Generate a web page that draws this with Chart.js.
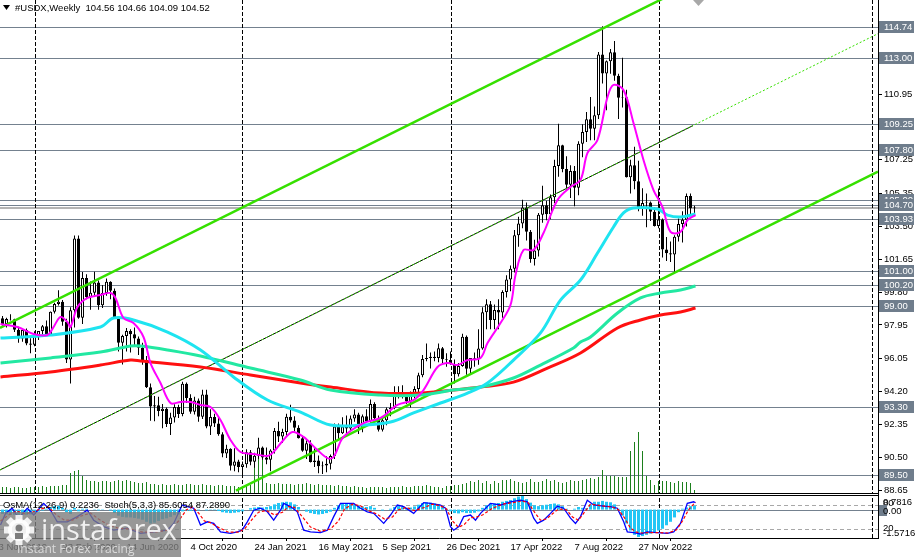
<!DOCTYPE html>
<html>
<head>
<meta charset="utf-8">
<title>#USDX Weekly</title>
<script src="https://cdn.jsdelivr.net/npm/chart.js@4.4.1/dist/chart.umd.min.js"></script>
<style>
html,body{margin:0;padding:0;background:#fff;overflow:hidden;}
canvas{display:block;}
</style>
</head>
<body>
<canvas id="chart" width="918" height="557"></canvas>
<script>
// ---------------- DATA ----------------
// weeks are counted from the bar of 4 Oct 2020 (= 0)
const FIRST_WEEK = -47; // first bar: 10 Nov 2019

const opens = [
98.33,98.00,98.28,98.27,97.68,97.18,97.66,96.91,96.84,97.36,
97.61,97.87,97.39,98.69,99.13,99.26,98.13,96.00,98.77,102.82,
98.36,100.59,99.53,99.76,100.34,99.06,99.75,100.38,99.88,98.37,
96.94,97.33,97.61,97.43,97.18,96.66,95.98,94.44,93.35,93.43,
93.10,93.23,92.37,92.73,93.33,92.93,94.64,93.84,93.06,93.69,
92.77,94.03,92.23,92.76,92.39,91.79,90.70,90.98,90.02,90.26,
89.94,90.10,90.77,90.24,90.58,91.04,90.48,90.36,90.88,91.98,
91.67,91.92,92.77,92.57,92.16,91.56,90.86,91.28,90.23,90.31,
89.99,90.03,90.13,90.56,92.23,91.85,92.23,92.12,92.68,92.90,
92.17,92.80,92.52,93.50,92.69,92.04,92.58,93.20,93.29,94.04,
94.08,93.96,93.64,94.12,94.34,95.12,96.03,96.09,96.16,96.08,
96.63,96.02,95.97,95.75,95.17,95.64,97.29,95.48,96.08,96.04,
96.62,98.66,99.12,98.23,98.79,98.65,99.80,100.51,101.12,103.00,
103.66,104.56,103.20,101.67,102.14,104.15,104.69,104.19,105.14,106.90,
108.07,106.73,105.85,106.62,105.68,108.16,108.82,109.54,109.00,109.76,
113.19,112.12,112.80,113.31,111.99,110.75,110.77,106.27,106.94,106.04,
104.55,104.82,104.85,104.32,103.52,103.89,102.20,101.99,101.92,102.92,
103.63,103.87,105.21,104.56];
const highs = [
98.45,98.35,98.55,98.30,97.85,97.70,97.75,97.20,97.60,97.55,
97.95,98.20,98.70,99.20,99.91,99.35,98.30,98.95,102.99,102.99,
100.93,100.80,100.40,100.94,100.45,100.20,100.56,100.41,100.00,98.45,
97.40,97.77,97.70,97.80,97.30,96.95,96.20,94.65,93.95,93.90,
93.50,93.30,93.00,93.48,93.45,94.75,94.70,94.05,93.90,93.80,
94.30,94.30,93.20,92.95,92.70,91.90,91.20,91.00,91.00,90.35,
90.25,90.95,90.90,90.75,91.60,91.10,91.05,90.95,92.15,92.50,
92.10,92.95,93.45,92.80,92.30,91.70,91.45,91.45,91.00,90.60,
90.25,90.55,90.65,92.40,92.40,92.75,92.85,92.85,93.20,93.00,
92.90,93.20,93.75,93.60,92.85,92.70,93.30,93.55,94.50,94.50,
94.55,94.00,94.20,94.50,95.25,96.25,96.90,96.40,96.45,96.90,
96.70,96.35,96.45,96.00,95.80,97.45,97.35,96.00,96.40,97.70,
98.95,99.40,99.30,99.10,99.40,99.90,100.75,101.30,103.30,104.05,
105.00,104.85,103.30,102.75,104.25,105.79,104.95,105.30,107.25,109.29,
108.10,107.45,106.95,106.90,108.30,109.25,109.95,110.79,110.25,113.33,
114.78,112.85,113.50,113.95,112.10,113.00,111.20,107.25,107.99,107.20,
105.65,105.35,104.90,104.60,105.63,103.95,102.90,102.65,103.00,103.95,
104.35,105.35,105.36,104.66];
const lows = [
97.88,97.80,98.20,97.55,96.95,97.00,96.80,96.36,96.75,97.10,
97.30,97.35,97.35,98.60,99.05,97.90,95.80,94.65,97.80,98.30,
98.00,99.40,98.80,99.60,98.80,98.90,99.60,99.40,98.35,96.45,
95.72,96.45,96.40,96.80,96.25,95.70,94.40,92.55,92.52,92.80,
92.13,92.20,91.75,92.45,92.70,92.80,93.55,92.95,92.90,92.50,
92.65,92.13,91.75,92.20,91.70,90.50,90.45,89.75,89.70,89.65,
89.40,89.90,90.05,89.90,90.40,90.35,90.10,89.70,90.70,91.35,
91.30,91.70,92.45,91.95,91.55,90.80,90.40,90.20,89.95,89.60,
89.55,89.65,89.80,90.40,91.50,91.80,91.85,91.95,92.50,91.80,
91.90,92.45,92.45,92.65,91.95,91.95,92.30,92.80,93.20,93.80,
93.80,93.50,93.30,93.80,93.90,95.00,95.90,95.50,95.90,95.85,
95.80,95.60,95.70,94.65,95.05,95.60,95.15,95.15,95.60,95.70,
96.55,97.70,97.70,97.70,97.70,98.35,99.50,99.85,100.90,102.35,
103.40,102.70,101.45,101.30,101.80,103.70,103.85,103.90,104.80,106.30,
106.55,105.55,105.10,104.64,105.25,107.40,108.25,108.35,108.35,109.55,
111.55,110.05,112.10,111.70,109.55,110.20,106.25,105.35,105.60,104.35,
104.10,103.45,103.80,103.50,103.40,101.75,101.55,101.50,100.82,102.65,
102.60,103.50,104.10,104.09];
const closes = [
98.00,98.28,98.27,97.68,97.18,97.66,96.91,96.84,97.36,97.61,
97.87,97.39,98.69,99.13,99.26,98.13,96.00,98.77,102.82,98.36,
100.59,99.53,99.76,100.34,99.06,99.75,100.38,99.88,98.37,96.94,
97.33,97.61,97.43,97.18,96.66,95.98,94.44,93.35,93.43,93.10,
93.23,92.37,92.73,93.33,92.93,94.64,93.84,93.06,93.69,92.77,
94.03,92.23,92.76,92.39,91.79,90.70,90.98,90.02,90.26,89.94,
90.10,90.77,90.24,90.58,91.04,90.48,90.36,90.88,91.98,91.67,
91.92,92.77,92.57,92.16,91.56,90.86,91.28,90.23,90.31,89.99,
90.03,90.13,90.56,92.23,91.85,92.23,92.12,92.68,92.90,92.17,
92.80,92.52,93.50,92.69,92.04,92.58,93.20,93.29,94.04,94.08,
93.96,93.64,94.12,94.34,95.12,96.03,96.09,96.16,96.08,96.63,
96.02,95.97,95.75,95.17,95.64,97.29,95.48,96.08,96.04,96.62,
98.66,99.12,98.23,98.79,98.65,99.80,100.51,101.12,103.00,103.66,
104.56,103.20,101.67,102.14,104.15,104.69,104.19,105.14,106.90,108.07,
106.73,105.85,106.62,105.68,108.16,108.82,109.54,109.00,109.76,113.19,
112.12,112.80,113.31,111.99,110.75,110.77,106.27,106.94,106.04,104.55,
104.82,104.85,104.32,103.52,103.89,102.20,101.99,101.92,102.92,103.63,
103.87,105.21,104.52,104.52];
const volumes = [
6,6,5,6,6,5,5,6,6,6,7,6,7,7,7,
8,8,
20,22,23,17,
13,12,12,11,12,12,11,12,13,
12,13,12,11,10,10,11,
9,9,8,9,8,8,9,8,8,9,9,8,8,9,8,8,7,8,8,7,
7,7,6,7,7,8,
40,40,40,
10,9,9,10,9,9,9,8,9,9,10,9,8,9,8,8,8,7,8,7,7,
6,7,6,6,5,6,6,6,6,5,6,6,6,7,6,6,7,7,7,8,7,6,6,5,7,
7,8,8,9,10,12,
11,13,10,12,9,12,10,13,13,14,12,11,10,11,14,11,11,12,14,12,13,11,10,11,13,12,12,13,
14,15,14,16,
23,17,17,17,16,16,16,
42,51,61,42,17,13,8,12,
12,12,11,10,12,11,11,10,
3];
const osmaValues = [
-0.25,-0.28,-0.3,
-0.3,-0.32,-0.3,-0.3,-0.28,-0.2,-0.12,-0.05,
0.05,0.15,0.2,0.22,0.1,-0.15,-0.25,
0.1,-0.1,0.05,0.05,0.0,0.02,-0.05,-0.02,0.0,-0.05,
-0.2,-0.35,-0.42,-0.45,-0.45,-0.48,-0.52,-0.58,
-0.7,-0.8,-0.75,-0.65,-0.55,-0.5,-0.42,-0.32,-0.28,
-0.1,-0.08,-0.07,-0.05,-0.05,0.0,-0.05,-0.02,-0.03,-0.08,
-0.15,-0.18,-0.2,-0.18,-0.15,-0.1,
0.0,0.08,0.12,0.15,0.12,
0.15,0.2,0.3,0.38,0.42,0.45,0.42,0.3,0.15,
0.0,-0.12,-0.2,-0.25,-0.28,-0.25,-0.2,-0.12,
0.1,0.25,0.32,0.35,0.35,0.3,0.2,0.18,
0.15,0.2,0.1,0.0,-0.05,0.0,0.05,0.15,0.2,0.15,
0.1,0.12,0.18,0.28,0.38,0.42,0.4,0.35,0.3,0.2,
0.05,-0.1,-0.2,-0.22,-0.15,
-0.2,-0.2,-0.18,-0.1,0.1,0.25,
0.35,0.35,0.38,0.45,0.5,0.55,0.65,0.75,0.78,0.6,0.4,0.25,
0.2,0.25,0.28,0.32,0.35,0.3,0.2,0.05,0.0,0.05,0.15,0.1,0.08,
0.3,0.45,0.45,0.5,0.45,0.42,0.3,0.05,
-0.35,-0.8,-1.2,-1.45,-1.57,-1.52,-1.45,-1.38,-1.32,-1.2,-1.1,-0.9,-0.7,-0.45,
-0.15,0.05,0.12,0.2,0.22];

// moving averages (week, value)
const maFastWeeks = [-47.5,-43.25,-39.25,-35.75,-34.25,-32.5,-30.75,-30,-28.25,-25.75,-22.5,-20,-18.75,-16.75,-14.25,-11.75,-10,-7.5,-5,-2.5,0,2.5,5,7.5,10,12.5,15.75,19.25,20.75,23.25,25.5,28.25,31.75,34.25,35.75,38.25,43.25,47.5,51.75,55.75,58.25,61.75,64.25,66.75,69.25,72.5,74.25,77.5,80,81.25,83.25,85.75,88.25,91.75,95,97.5,99.25,101.75,104.25,105.75,108.25,110.75,113.25,115.75,118,120,122.5,124.25,126.25];
const maFastValues = [98.00,97.83,97.44,97.38,97.83,98.40,98.11,97.83,98.96,99.47,99.64,99.75,99.47,98.34,98.06,97.27,95.80,94.68,93.55,93.61,93.61,93.44,93.33,92.59,91.47,90.79,90.68,90.57,90.79,91.47,91.92,91.64,90.90,90.45,90.51,91.64,92.42,92.71,93.44,93.72,94.28,95.58,95.80,95.69,95.97,96.09,96.93,98.06,99.07,100.76,102.17,102.17,103.13,104.99,105.72,106.12,107.64,108.37,110.79,111.47,111.19,109.33,107.24,105.55,104.59,103.19,103.19,103.86,104.14];
const maMidWeeks = [-47.5,-35,-22.5,-19.25,-14.25,-5.75,2.5,10.75,19.25,27.5,35,43.25,50,55.75,62.5,69.25,74.25,80.75,87.5,92.5,97.5,101.75,105.75,108.25,110.75,116.75,119.25,122.5,126.25];
const maMidValues = [97.21,97.38,97.83,98.34,98.23,97.55,96.54,95.02,93.72,93.04,92.31,92.31,92.48,92.99,93.55,94.11,94.68,95.97,97.50,99.35,100.48,102.00,103.47,104.26,104.54,104.48,104.14,104.03,104.20];
const maSlowWeeks = [-47.5,-35,-22.5,-15,-12.5,-5.75,2.5,15,27.5,35,47.5,57.5,65.75,72.5,80.75,87.5,95.75,97.5,100,106.75,112.5,117.5,122.5,126.25];
const maSlowValues = [95.80,96.09,96.42,96.76,96.76,96.54,96.20,95.52,94.85,94.28,94.00,94.00,94.28,94.45,94.96,95.69,96.65,96.99,97.27,98.62,99.47,99.75,99.92,100.14];
const maLongWeeks = [-47.5,-35,-22.5,-15,-12.5,2.5,15,27.5,35,47.5,57.5,65.75,72.5,80.75,89.25,97.5,106.75,112.5,117.5,122.5,126.25];
const maLongValues = [95.02,95.30,95.69,95.97,95.92,95.58,95.13,94.68,94.45,94.11,94.11,94.28,94.45,94.73,95.52,96.37,97.78,98.23,98.51,98.68,98.90];

// stochastic (5,3,3)
const stochMainWeeks = [-47.5,-46.25,-44.6,-42.9,-40.8,-39.2,-36.7,-35,-33.3,-30.8,-28.3,-25.8,-24.2,-21.7,-19.2,-15.8,-12.5,-9.2,-5.8,-4.2,-2.1,-0.8,0.8,2.5,4.2,5.8,7.5,10,11.7,12.9,14.2,15.8,17.5,19.2,20.8,22.5,23.3,25,26.7,28.3,30,32.5,34.2,35.8,37.5,39.2,40.8,42.5,44.2,45.8,48.3,50,51.7,53.3,55.8,58.3,60,62.5,63.75,65,65.8,67.1,68.3,70,71.25,72.5,75,77.5,80,82.5,84.2,85.8,86.7,88.3,90,91.7,93.3,95,96.25,97.5,99.2,100.8,103.3,105,106.7,108.3,109.2,110.8,112.5,114.2,116.7,119.2,120.8,122.5,124.2,125.8,126.25];
const stochMainValues = [30,59,72,47,72,55,84,67,38,38,51,67,42,26,17,22,9,13,17,34,80,76,72,30,38,34,13,9,13,17,38,67,72,63,42,67,84,76,63,17,13,11,17,51,84,84,84,72,63,59,34,55,80,76,59,86,84,80,72,26,17,26,51,55,42,59,84,80,88,92,88,47,34,42,59,77,72,47,34,51,92,80,77,76,72,38,13,11,7.5,13,11,9,13,34,84,88,85.6];
const stochSignalWeeks = [-47.5,-45.5,-43.5,-41.5,-39.5,-37.5,-35.5,-33.5,-31.5,-29.5,-27.5,-25,-23,-20.5,-18,-15,-12,-8.5,-5,-3,-1,0.5,2,3.5,5,7,9.5,12,13.5,15.5,17,19,21,23,24.5,26,28,30,32.5,35,37,38.5,40.5,42.5,44.5,46.5,48.5,50.5,52,54,56,58.5,60.5,62.5,64,65.5,67,68.5,70,71.5,73,75.5,78,80.5,83,84.5,86,87.5,89,90.5,92,94,95.5,97,98.5,100,101.5,103.5,105.5,107,108.5,110,111.5,113,115,117,119.5,121.5,123,124.5,126.25];
const stochSignalValues = [40,55,65,58,62,70,75,55,42,42,52,60,45,30,22,20,12,13,18,40,68,75,60,40,36,24,12,12,20,45,62,66,55,62,76,74,50,25,14,20,40,70,82,78,66,58,45,50,68,74,66,74,82,78,70,40,24,32,48,50,55,72,82,86,90,85,62,42,45,58,70,68,50,42,62,82,80,77,75,68,48,22,12,10,11,11,10,18,40,68,87.3];

// trend channel (drawn objects): end points (week, price)
const chanUpperWeeks = [-47.625, 126];
const chanUpperValues = [97.78, 117.22];
const chanLowerWeeks = [11.375, 171.875];
const chanLowerValues = [88.61, 106.59];
const chanMidWeeks = [-47.625, 125.625];
const chanMidValues = [89.78, 109.18];
const chanMidRayWeeks = [-47.625, 171.875];
const chanMidRayValues = [89.78, 114.36];

// horizontal levels and axis ticks
const levels = [114.74, 113.00, 109.25, 107.80, 105.00, 104.70, 103.93, 101.00, 100.20, 99.00, 93.30, 89.50];
const currentPrice = 104.52;
const priceTicks = [88.65, 90.50, 92.35, 94.20, 96.05, 97.95, 99.80, 101.65, 103.50, 105.35, 107.25, 109.10, 110.95, 112.80, 114.65];
const xTickWeeks = [-32, -16, 0, 16, 32, 48, 64, 80, 96, 112];
const xTickLabels = ['23 Feb 2020','14 Jun 2020','4 Oct 2020','24 Jan 2021','16 May 2021','5 Sep 2021','26 Dec 2021','17 Apr 2022','7 Aug 2022','27 Nov 2022'];
const hiddenTickWeek = -48, hiddenTickLabel = '3 Nov 2019';
const separatorWeeks = [-39, 13, 65, 117, 170.375];
const stochLevels = [80, 20];
const headerText = '#USDX,Weekly  104.56 104.66 104.09 104.52';
const oscText = 'OsMA(12,26,9) 0.2236  Stoch(5,3,3) 85.6054 87.2890';
const osmaMaxLabel = '0.7816', osmaMinLabel = '-1.5716';

// ---------------- SCALE RANGES ----------------
const X_MIN = -47.625, X_MAX = 171.875;
const PRICE_MIN = 85.9458, PRICE_MAX = 116.2556;
const VOL_MIN = -45, VOL_MAX = 493;
const STO_MIN = -2.5, STO_MAX = 1342.5;
const OSMA_MIN = -1.6303, OSMA_MAX = 29.254;

const FONT = "'Liberation Sans', Arial, sans-serif";
Chart.defaults.font.family = FONT;
Chart.defaults.font.size = 9.5;
Chart.defaults.color = '#000';

const wk = i => FIRST_WEEK + i;
const pts = (ws, vs) => ws.map((w, k) => ({x: w, y: vs[k]}));

const wickData = highs.map((h, i) => ({x: wk(i), y: [lows[i], h]}));
const bodyData = opens.map((o, i) => ({x: wk(i), y: [Math.min(o, closes[i]), Math.max(o, closes[i])]}));
const bodyColors = opens.map((o, i) => closes[i] >= o ? '#ffffff' : '#000000');
const volData = volumes.map((v, i) => ({x: wk(i), y: v}));
const osmaData = osmaValues.map((v, i) => ({x: wk(i), y: v}));

const lineDs = (label, data, color, width, axis, order, extra) => Object.assign({
  type: 'line', label, data, borderColor: color, borderWidth: width, pointRadius: 0,
  fill: false, tension: 0, yAxisID: axis, order
}, extra || {});

const decor = {
  id: 'decor',
  beforeDraw(chart) {
    const c = chart.ctx;
    c.save(); c.fillStyle = '#fff'; c.fillRect(0, 0, chart.width, chart.height); c.restore();
  },
  beforeDatasetsDraw(chart) {
    const c = chart.ctx, xs = chart.scales.x, ys = chart.scales.y, yo = chart.scales.yo, yh = chart.scales.yh, a = chart.chartArea;
    c.save();
    // level lines
    c.lineWidth = 1; c.strokeStyle = '#74818f';
    levels.forEach(v => {
      const py = Math.round(ys.getPixelForValue(v)) + 0.5;
      c.beginPath(); c.moveTo(a.left, py); c.lineTo(a.right, py); c.stroke();
    });
    c.strokeStyle = '#b4b4b4'; c.lineWidth = 2;
    const cp = Math.round(ys.getPixelForValue(currentPrice));
    c.beginPath(); c.moveTo(a.left, cp); c.lineTo(a.right, cp); c.stroke();
    // oscillator levels
    c.lineWidth = 1; c.strokeStyle = '#a8a8a8'; c.setLineDash([4, 3]);
    stochLevels.forEach(v => {
      const py = Math.round(yo.getPixelForValue(v)) + 0.5;
      c.beginPath(); c.moveTo(a.left, py); c.lineTo(a.right, py); c.stroke();
    });
    c.setLineDash([]); c.strokeStyle = '#74818f';
    const z = Math.round(yh.getPixelForValue(0)) + 0.5;
    c.beginPath(); c.moveTo(a.left, z); c.lineTo(a.right, z); c.stroke();
    // period separators
    c.strokeStyle = '#000'; c.setLineDash([4, 2]);
    separatorWeeks.forEach(w => {
      const px = Math.round(xs.getPixelForValue(w)) + 0.5;
      c.beginPath(); c.moveTo(px, a.top); c.lineTo(px, a.bottom); c.stroke();
    });
    c.restore();
  },
  afterDraw(chart) {
    const c = chart.ctx, xs = chart.scales.x, ys = chart.scales.y, yo = chart.scales.yo, yh = chart.scales.yh, a = chart.chartArea;
    c.save();
    // pane separation
    const volBase = Math.round(chart.scales.yv.getPixelForValue(0));
    c.fillStyle = '#fff'; c.fillRect(0, volBase + 0.5, a.right, 2);
    c.strokeStyle = '#000'; c.lineWidth = 1;
    c.beginPath(); c.moveTo(0, volBase + 0.5); c.lineTo(a.right, volBase + 0.5); c.stroke();
    c.beginPath(); c.moveTo(0, volBase + 2.5); c.lineTo(a.right, volBase + 2.5); c.stroke();
    // level label boxes
    c.font = '9.5px ' + FONT; c.textBaseline = 'middle'; c.textAlign = 'left';
    levels.forEach(v => {
      const py = Math.round(ys.getPixelForValue(v));
      c.fillStyle = '#6f7d8c'; c.fillRect(a.right + 1, py - 6, 35, 12);
      c.fillStyle = '#fff'; c.fillText(v.toFixed(2), a.right + 6, py + 0.5);
    });
    // oscillator right labels
    c.fillStyle = '#000';
    c.fillText('80', a.right + 5, Math.round(yo.getPixelForValue(80)) - 2);
    c.fillText(osmaMaxLabel, a.right + 5, Math.round(yh.getPixelForValue(0.7816)) + 6);
    const zy = Math.round(yh.getPixelForValue(0));
    c.fillStyle = '#6f7d8c'; c.fillRect(a.right + 1, zy - 5, 8, 11);
    c.fillStyle = '#000'; c.fillText('0.00', a.right + 5, zy + 1);
    c.fillText('20', a.right + 5, Math.round(yo.getPixelForValue(20)) - 1);
    c.fillText(osmaMinLabel, a.right + 5, Math.round(yh.getPixelForValue(-1.5716)) - 4);
    // hidden first date label
    c.textBaseline = 'middle';
    c.fillText(hiddenTickLabel, xs.getPixelForValue(hiddenTickWeek), 547);
    // header
    c.fillStyle = '#000';
    c.beginPath(); c.moveTo(3, 5); c.lineTo(10, 5); c.lineTo(6.5, 10); c.closePath(); c.fill();
    c.fillText(headerText, 15, 8);
    // oscillator caption
    c.fillText(oscText, 3, 505);
    // shift marker
    c.fillStyle = '#a8a8a8';
    c.beginPath(); c.moveTo(693, 0); c.lineTo(704, 0); c.lineTo(698.5, 6); c.closePath(); c.fill();
    // watermark
    c.fillStyle = 'rgba(125,125,125,0.8)';
    c.fillRect(0, 512, 181, 45);
    c.fillStyle = 'rgba(255,255,255,0.85)';
    const gx = 19, gy = 530;
    c.beginPath();
    for (let k = 0; k < 8; k++) {
      const ang = k * Math.PI / 4;
      c.save(); c.translate(gx, gy); c.rotate(ang); c.fillRect(-3.5, -15, 7, 8); c.restore();
    }
    c.arc(gx, gy, 11, 0, Math.PI * 2); c.fill();
    c.fillStyle = 'rgba(125,125,125,1)';
    c.beginPath(); c.arc(gx, gy - 2, 3.5, 0, Math.PI * 2); c.fill();
    c.fillRect(gx - 4, gy + 3, 8, 6);
    c.fillStyle = 'rgba(255,255,255,0.85)';
    c.textBaseline = 'alphabetic';
    c.font = "29px 'Open Sans', sans-serif";
    c.fillText('instaforex', 41, 540);
    c.font = "12px 'Open Sans', sans-serif";
    c.fillStyle = 'rgba(235,235,235,0.8)';
    c.fillText('Instant Forex Tracing', 17, 553);
    c.restore();
  }
};

new Chart(document.getElementById('chart'), {
  type: 'bar',
  data: {
    datasets: [
      lineDs('MA fast', pts(maFastWeeks, maFastValues), '#ff00ff', 2, 'y', 1, {tension: 0.35}),
      lineDs('MA mid', pts(maMidWeeks, maMidValues), '#1ee4f0', 3, 'y', 2, {tension: 0.35}),
      lineDs('MA slow', pts(maSlowWeeks, maSlowValues), '#22e8a2', 3, 'y', 3, {tension: 0.35}),
      lineDs('MA long', pts(maLongWeeks, maLongValues), '#ff1010', 3, 'y', 4, {tension: 0.35}),
      lineDs('Channel upper', pts(chanUpperWeeks, chanUpperValues), '#36e000', 2.5, 'y', 5),
      lineDs('Channel lower', pts(chanLowerWeeks, chanLowerValues), '#36e000', 2.5, 'y', 5.1),
      lineDs('Channel mid ray', pts(chanMidRayWeeks, chanMidRayValues), '#36e000', 1, 'y', 5.2, {borderDash: [2, 2]}),
      lineDs('Channel mid', pts(chanMidWeeks, chanMidValues), '#000000', 1, 'y', 5.3),
      {type: 'bar', label: 'Bodies', data: bodyData, backgroundColor: bodyColors, borderColor: '#000', borderWidth: 1,
       borderSkipped: false, barThickness: 3, grouped: false, inflateAmount: 0, yAxisID: 'y', order: 9},
      {type: 'bar', label: 'Wicks', data: wickData, backgroundColor: '#000', borderWidth: 0,
       barThickness: 1, grouped: false, inflateAmount: 0, yAxisID: 'y', order: 10},
      {type: 'bar', label: 'Volume', data: volData, backgroundColor: '#1c7f1c', borderWidth: 0,
       barThickness: 1, grouped: false, inflateAmount: 0, yAxisID: 'yv', order: 11},
      {type: 'bar', label: 'OsMA', data: osmaData, backgroundColor: '#22c6f5', borderWidth: 0,
       barThickness: 3, grouped: false, inflateAmount: 0, yAxisID: 'yh', order: 12},
      lineDs('Stoch signal', pts(stochSignalWeeks, stochSignalValues), '#ff0000', 1.2, 'yo', 0.4, {borderDash: [3, 2]}),
      lineDs('Stoch main', pts(stochMainWeeks, stochMainValues), '#0000ff', 1.3, 'yo', 0.5)
    ]
  },
  options: {
    responsive: false,
    animation: false,
    devicePixelRatio: 1,
    events: [],
    layout: {padding: 0},
    plugins: {legend: {display: false}, tooltip: {enabled: false}, title: {display: false}},
    scales: {
      x: {
        type: 'linear', position: 'bottom', min: X_MIN, max: X_MAX, offset: false,
        grid: {display: true, drawOnChartArea: false, drawTicks: true, tickLength: 3, color: '#000'},
        border: {display: true, color: '#000'},
        ticks: {autoSkip: false, maxRotation: 0, minRotation: 0, align: 'start', padding: 1, color: '#000',
                font: {size: 9.5}, callback: (v, i) => xTickLabels[i]},
        afterBuildTicks: s => { s.ticks = xTickWeeks.map(v => ({value: v})); },
        afterFit: s => { s.height = 19; s.paddingLeft = 0; s.paddingRight = 0; }
      },
      y: {
        type: 'linear', position: 'right', min: PRICE_MIN, max: PRICE_MAX,
        grid: {display: true, drawOnChartArea: false, drawTicks: true, tickLength: 4, color: '#000'},
        border: {display: true, color: '#000'},
        ticks: {padding: 2, color: '#000', font: {size: 9.5}, callback: v => Number(v).toFixed(2)},
        afterBuildTicks: s => { s.ticks = priceTicks.map(v => ({value: v})); },
        afterFit: s => { s.width = 40; s.paddingTop = 0; s.paddingBottom = 0; }
      },
      yv: {type: 'linear', display: false, min: VOL_MIN, max: VOL_MAX},
      yo: {type: 'linear', display: false, min: STO_MIN, max: STO_MAX},
      yh: {type: 'linear', display: false, min: OSMA_MIN, max: OSMA_MAX}
    }
  },
  plugins: [decor]
});
</script>
</body>
</html>
